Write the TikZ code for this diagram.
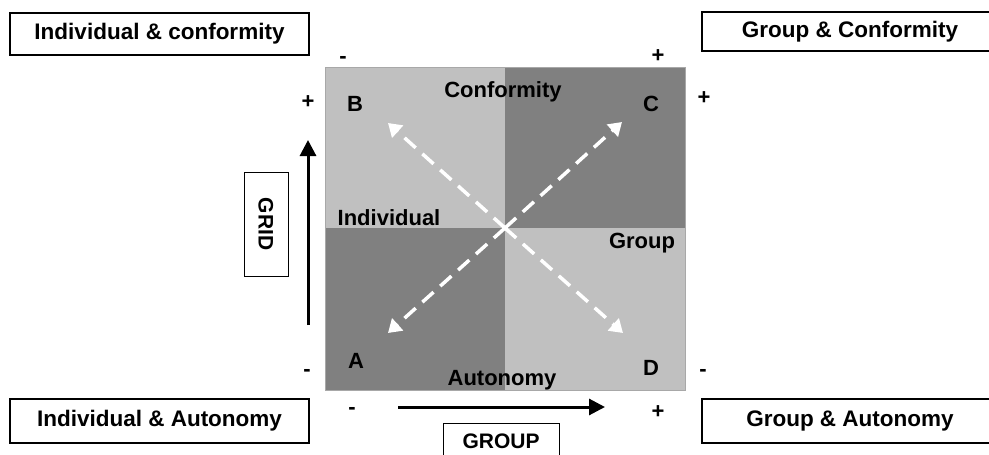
\documentclass[tikz,border=0pt]{standalone}
\usepackage{fontspec}
\setmainfont{Liberation Sans}
\usetikzlibrary{arrows.meta}
\definecolor{lightq}{HTML}{C0C0C0}
\definecolor{darkq}{HTML}{808080}
\definecolor{edgeq}{HTML}{A8A8A8}
\begin{document}
\begin{tikzpicture}[x=1pt,y=-1pt,
  lab/.style={font=\fontsize{22}{26}\selectfont\bfseries, inner sep=0pt, anchor=base},
  bigbox/.style={draw, line width=2.5pt, minimum height=42pt, font=\fontsize{22.5}{26}\selectfont\bfseries, text height=16pt, text depth=4.5pt, inner sep=0pt},
  boxtext/.style={font=\fontsize{22.5}{26}\selectfont\bfseries, text height=16pt, text depth=4.5pt, inner sep=0pt},
  smallbox/.style={draw, line width=0.9pt, font=\fontsize{21}{24}\selectfont\bfseries, text height=15pt, text depth=0pt, inner sep=0pt},
  quad/.style={draw=none, inner sep=0pt, minimum width=179pt, minimum height=160pt},
  axisarrow/.style={line width=3pt, -{Triangle[length=16pt,width=16pt]}},
  diagarrow/.style={white, line width=3.5pt, dash pattern=on 15pt off 9pt, -{Triangle[length=13pt,width=16pt]}}
]
\clip (0,0) rectangle (989,455);
\useasboundingbox (0,0) rectangle (989,455);

% quadrants
\node[quad, fill=lightq] (qB) at (415.5,148) {};
\node[quad, fill=darkq, minimum width=180pt] (qC) at (595,148) {};
\node[quad, fill=darkq, minimum height=162pt] (qA) at (415.5,309) {};
\node[quad, fill=lightq, minimum width=180pt, minimum height=162pt] (qD) at (595,309) {};
\draw[edgeq, line width=1pt] (qB.north west) rectangle (qD.south east);

% diagonal arrows
\coordinate (ctr) at (505,228);
\coordinate (tipB) at (388,123);
\coordinate (tipC) at (622,122);
\coordinate (tipA) at (388,333);
\coordinate (tipD) at (623,333);
\draw[diagarrow] (ctr) -- (tipB);
\draw[diagarrow] (ctr) -- (tipC);
\draw[diagarrow] (ctr) -- (tipA);
\draw[diagarrow] (ctr) -- (tipD);

% quadrant letters and labels
\node[lab] (B) at (355,111) {B};
\node[lab] (C) at (651,111) {C};
\node[lab] (A) at (356,368) {A};
\node[lab] (D) at (651,375) {D};
\node[lab] (conf) at (503,97) {Conformity};
\node[lab] (indiv) at (389,225) {Individual};
\node[lab] (grp) at (642,248) {Group};
\node[lab] (auto) at (502,385) {Autonomy};

% signs
\node[lab] (s1) at (343,63) {-};
\node[lab] (s2) at (658,62) {+};
\node[lab] (s3) at (308,108) {+};
\node[lab] (s4) at (704,104) {+};
\node[lab] (s5) at (307,376) {-};
\node[lab] (s6) at (703,376) {-};
\node[lab] (s7) at (352,414) {-};
\node[lab] (s8) at (658,418) {+};

% corner boxes
\node[bigbox, minimum width=299pt] (ic) at (159.5,34) {Individual \& conformity};
\node[bigbox, minimum width=320pt, minimum height=39pt] (gcbox) at (862,31.5) {};
\node[boxtext] (gc) at (850,31.5) {Group \& Conformity};
\node[bigbox, minimum width=299pt, minimum height=44pt] (ia) at (159.5,421) {Individual \& Autonomy};
\node[bigbox, minimum width=320pt, minimum height=44pt] (gabox) at (862,421) {};
\node[boxtext] (ga) at (850,421) {Group \& Autonomy};

% axis boxes
\node[smallbox, minimum width=116pt, minimum height=36pt] (group) at (501,441) {GROUP};
\node[smallbox, minimum width=104pt, minimum height=44pt, rotate=-90] (grid) at (266,224) {GRID};

% axis arrows
\coordinate (vS) at (308,325);
\coordinate (vE) at (308,140);
\coordinate (hS) at (398,407);
\coordinate (hE) at (605,407);
\draw[axisarrow] (vS) -- (vE);
\draw[axisarrow] (hS) -- (hE);
\end{tikzpicture}
\end{document}
